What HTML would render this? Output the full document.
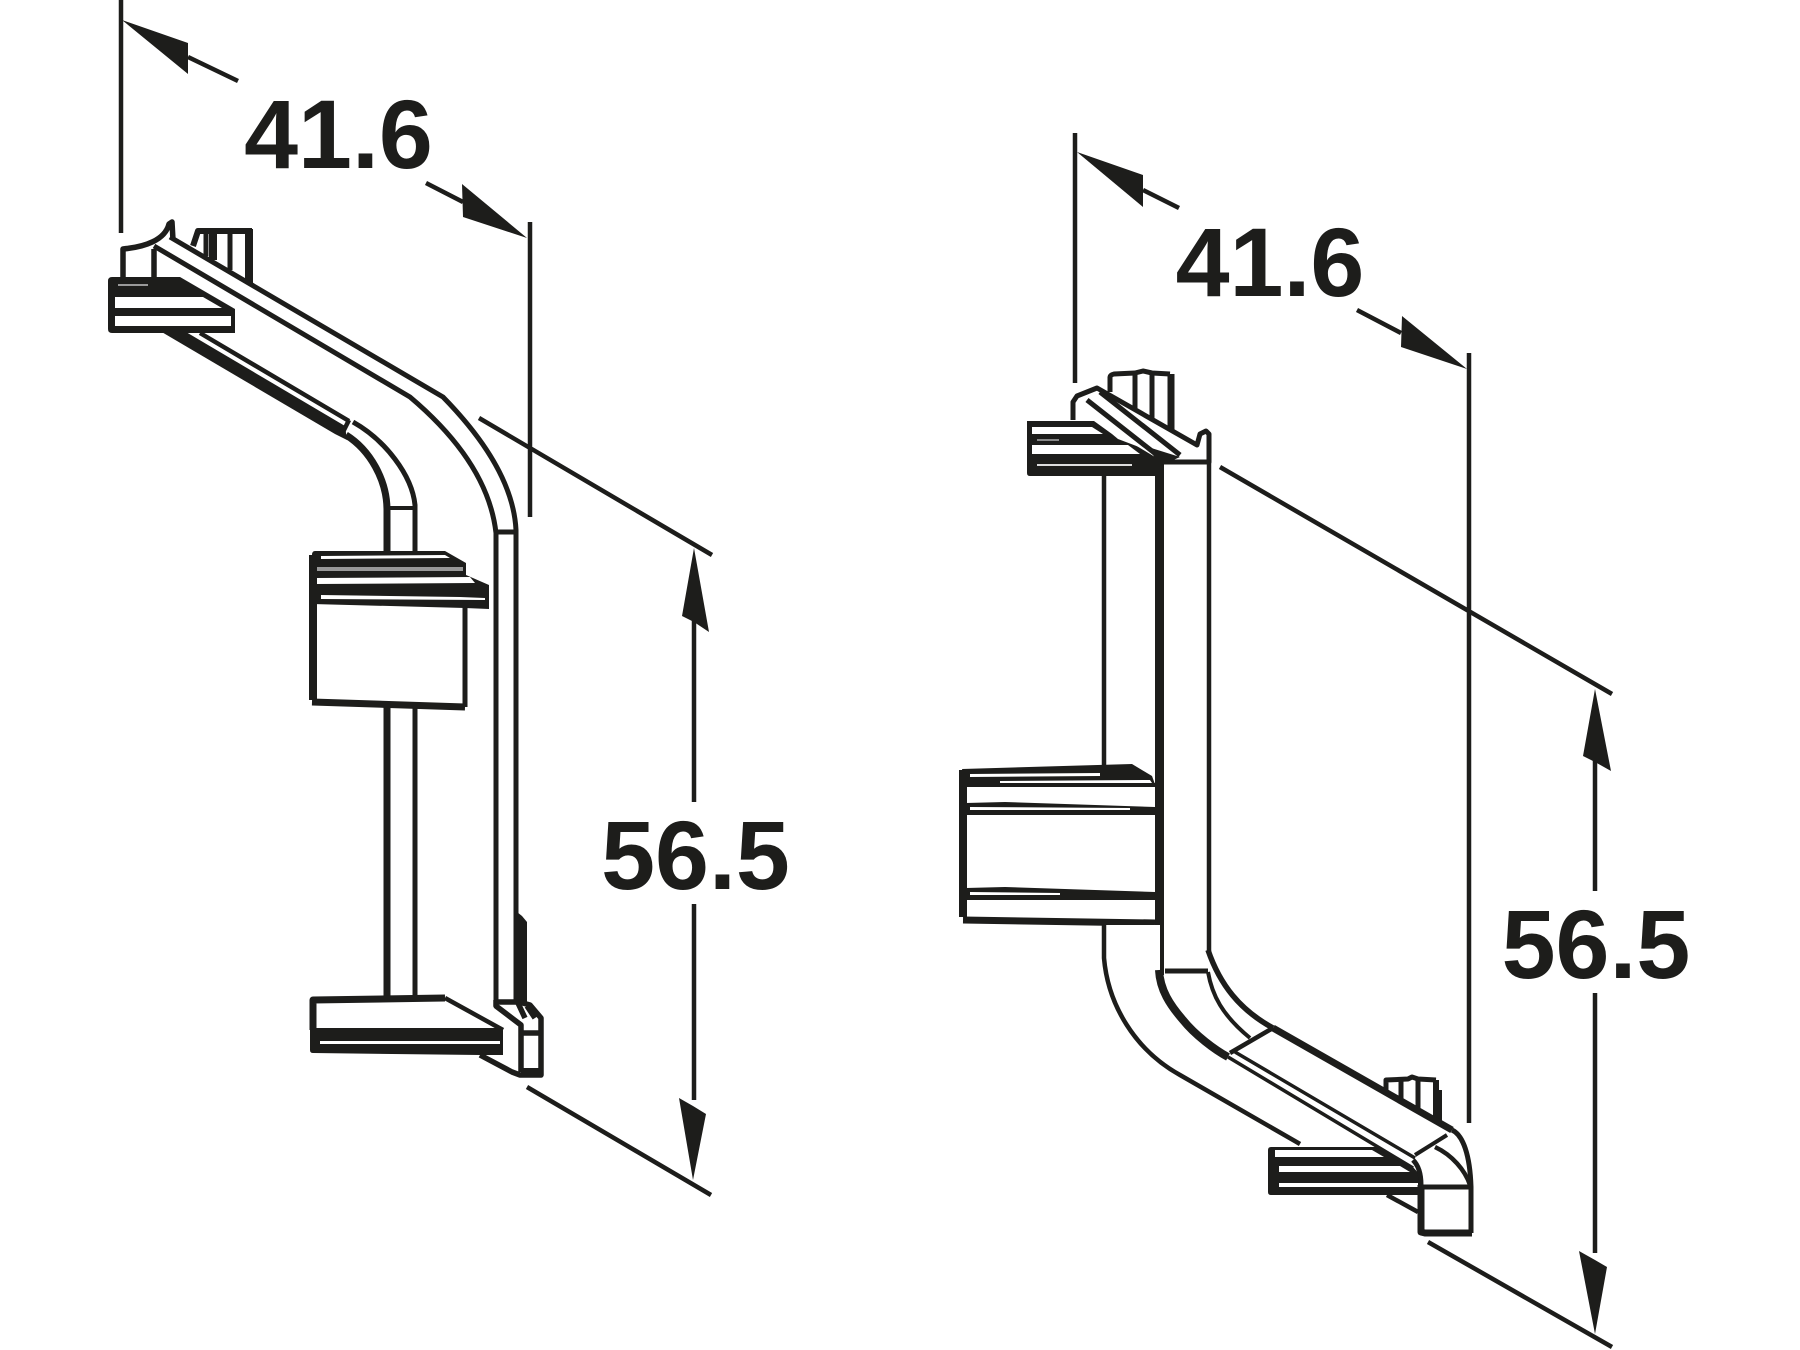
<!DOCTYPE html>
<html><head><meta charset="utf-8"><style>
html,body{margin:0;padding:0;background:#fff;width:1800px;height:1350px;overflow:hidden}
svg{display:block}
text{font-family:"Liberation Sans",Arial,sans-serif;font-weight:bold;font-size:97px;fill:#1d1d1b;text-anchor:middle}
.l{fill:none;stroke:#1d1d1b;stroke-linecap:butt;stroke-linejoin:round}
.w{fill:#fff;stroke:none}
.k{fill:#1d1d1b;stroke:none}
</style></head><body>
<svg width="1800" height="1350" viewBox="0 0 1800 1350" xmlns="http://www.w3.org/2000/svg">
<rect width="1800" height="1350" fill="#fff"/>

<!-- LEFT dimensions -->
<g class="l" stroke-width="4.5">
<path d="M121 0V233M530 222V517M479 418L712 555M527 1087L711 1195M188 57L238 81M426 183L463 202M694 620V802M694 904V1100"/>
</g>
<path class="k" d="M122 20L188 43V74ZM527 238L463 217L462 184ZM694 548L709 632L694 622L682 616ZM693 1180L679 1098L693 1106L706 1114Z"/>
<text x="338.5" y="168">41.6</text>
<text x="695.5" y="889">56.5</text>

<!-- LEFT drawing: knob -->
<path class="w" d="M197 229H253V285H193Z"/>
<g class="l">
<path stroke-width="6" d="M193 246L198 231H252"/>
<path stroke-width="8" d="M249 229V285"/>
<path stroke-width="8" d="M213 230V260"/>
<path stroke-width="5" d="M206 230V256M230 230V270"/>
</g>
<!-- post piece & curved cap -->
<g class="l" stroke-width="5.5">
<path d="M123 277V249C145 247 165 240 169 224L172 222L173 240"/>
<path d="M154 249V277"/>
</g>
<!-- main arm -->
<path class="w" d="M157 248L170 237L443 397C490 440 516 480 516 540V1003H496V533C490 480 450 425 410 397Z"/>
<g class="l" stroke-width="5">
<path d="M154 246L410 397C455 435 490 480 496 533V1003"/>
<path d="M170 237L443 397C490 445 514 490 516 530V1003"/>
<path d="M496 532H516"/>
</g>
<!-- middle post -->
<g class="l">
<path stroke-width="7" d="M346 435C370 450 387 480 387 510V998"/>
<path stroke-width="5" d="M353 422C385 440 412 475 415 505V998"/>
<path stroke-width="4" d="M387 508H415"/>
<path stroke-width="4.5" d="M200 333L349 421M342 434L349 420"/>
</g>
<path class="k" d="M160 331L186 332L345 426L347 440L335 434Z"/>
<!-- top-left bracket -->
<path class="k" d="M112 277H180L235 309V333H112Q108 333 108 329V281Q108 277 112 277Z"/>
<path class="w" d="M115 297H203L222 308H115ZM115 316H231V326H115Z"/>
<rect x="118" y="284" width="30" height="2" fill="#999"/>
<!-- middle block -->
<path class="w" d="M312 600H465V707L312 702Z"/>
<path class="k" d="M315 551H445L466 563V575L489 585V609L465 608L312 604V555Q312 551 315 551Z"/>
<path class="w" d="M321 556L445 555L450 558L321 559ZM316 578L470 577L475 583L316 584Z"/>
<rect x="316" y="567" width="147" height="4" fill="#999"/>
<path class="w" d="M321 595L460 597L485 598V600L321 599Z"/>
<g class="l">
<path stroke-width="8" d="M313 555V700"/>
<path stroke-width="7" d="M312 702L465 707"/>
<path stroke-width="5" d="M465 606V707"/>
</g>
<!-- lower bracket -->
<path class="w" d="M312 998H445L503 1028V1054H312Z"/>
<path class="k" d="M310 1028H503V1055H480L313 1053Q310 1053 310 1050Z"/>
<rect x="320" y="1041" width="180" height="3" fill="#fff"/>
<g class="l">
<path stroke-width="7" d="M313 1030V1000L445 998"/>
<path stroke-width="4.5" d="M445 998L503 1030"/>
</g>
<!-- foot -->
<path class="k" d="M517 912L522 916L527 922V1005H517Z"/>
<path class="w" d="M496 1003H522L542 1020V1073H522V1025Z"/>
<g class="l" stroke-width="5.5">
<path d="M496 1000V1006L521 1025V1072"/>
<path d="M496 1002H519L530 1005L541 1018V1075H520L512 1072L480 1055"/>
<path d="M523 1033H541M518 1003L525 1018M527 1006L535 1018"/>
</g>
<rect x="521" y="1068" width="21" height="8" fill="#1d1d1b"/>

<!-- RIGHT dimensions -->
<g class="l" stroke-width="4.5">
<path d="M1075 133V383M1469 353V1123M1220 467L1612 694M1428 1242L1612 1347M1143 190L1179 208M1357 310L1401 333M1595 750V891M1595 993V1253"/>
</g>
<path class="k" d="M1077 152L1143 175V207ZM1467 369L1401 347L1402 316ZM1595 689L1611 771L1595 762L1583 756ZM1595 1334L1579 1251L1595 1260L1607 1267Z"/>
<text x="1270" y="296">41.6</text>
<text x="1596" y="978">56.5</text>

<!-- RIGHT drawing: top knob -->
<path class="w" d="M1110 374H1175V440H1110Z"/>
<g class="l">
<path stroke-width="5" d="M1110 392V377Q1110 375 1114 374L1135 373L1143 371L1152 373L1170 374"/>
<path stroke-width="7" d="M1171 374V432"/>
<path stroke-width="5" d="M1135 375V408M1152 375V420"/>
</g>
<!-- top left bracket -->
<path class="w" d="M1029 422H1093L1120 440H1029Z"/>
<path class="k" d="M1027 421H1094L1112 434L1118 439L1160 455V476H1030Q1027 476 1027 473Z"/>
<path class="w" d="M1032 427H1092L1103 434H1032ZM1032 445H1128L1140 454H1032Z"/>
<rect x="1037" y="464" width="95" height="2" fill="#ddd"/>
<rect x="1037" y="439" width="22" height="2" fill="#888"/>
<!-- vertical body -->
<path class="w" d="M1163 460H1209V970H1163Z"/>
<g class="l">
<path stroke-width="4.5" d="M1104 475V765"/>
<path stroke-width="4.5" d="M1209 460V953"/>
</g>
<path class="k" d="M1155 460H1164V975H1155Z"/>
<!-- top arm -->
<path class="w" d="M1074 420V400L1097 388L1197 443L1204 432H1208L1210 460H1160L1120 436L1093 420Z"/>
<g class="l" stroke-width="5">
<path d="M1073 420V402L1077 396L1097 388L1197 445L1200 434L1206 431L1209 434V462H1158"/>
<path d="M1087 400L1157 455M1100 392L1180 455"/>
</g>
<path class="k" d="M1148 447L1180 457L1160 466Z"/>
<!-- middle block -->
<path class="w" d="M962 770H1155V923L962 920Z"/>
<path class="k" d="M962 769L1132 764L1152 776L1156 787H966Z"/>
<path class="w" d="M970 774L1100 773V776L970 777ZM1000 781L1150 780L1152 783H1000Z"/>
<g class="l">
<path stroke-width="4" d="M966 785H1155"/>
<path stroke-width="8" d="M963 770V917"/>
<path stroke-width="7" d="M963 920L1155 923"/>
</g>
<path class="k" d="M966 803L1005 802L1155 807V815H966ZM966 888L1005 887L1155 892V900H966Z"/>
<path class="w" d="M970 807L1130 808V810L970 810ZM970 892L1060 893V895L970 895Z"/>
<!-- lower bracket -->
<path class="k" d="M1271 1147H1380L1420 1170V1195H1271Q1268 1195 1268 1192V1150Q1268 1147 1271 1147Z"/>
<path class="w" d="M1275 1150H1372L1384 1157H1275ZM1279 1166H1400L1410 1172H1279ZM1279 1183H1418V1187H1279Z"/>
<!-- lower knob -->
<path class="w" d="M1385 1080H1437V1125H1385Z"/>
<g class="l">
<path stroke-width="5" d="M1386 1092V1080L1408 1079L1412 1077L1418 1079L1436 1080"/>
<path stroke-width="5" d="M1401 1080V1100M1418 1080V1110"/>
<path stroke-width="6" d="M1436 1080V1122"/>
<path stroke-width="4" d="M1440 1090V1122"/>
</g>
<!-- lower arm -->
<path class="w" d="M1164 970H1209C1215 1000 1240 1010 1273 1028L1453 1130C1465 1135 1471 1160 1471 1187H1420V1175L1413 1167L1228 1057C1185 1020 1165 1000 1164 970Z"/>
<path class="w" d="M1104 925V960C1110 1030 1150 1060 1180 1075L1300 1146H1230L1160 1000V925Z"/>
<g class="l">
<path stroke-width="4.5" d="M1104 923V958C1108 1005 1135 1050 1180 1075L1300 1144"/>
<path stroke-width="5" d="M1165 971H1208"/>
<path stroke-width="8" d="M1159 970C1160 990 1170 1005 1183 1020C1195 1035 1215 1050 1228 1057"/>
<path stroke-width="4" d="M1208 972C1212 995 1222 1015 1250 1038"/>
<path stroke-width="5.5" d="M1208 950C1220 985 1240 1010 1273 1028"/>
<path stroke-width="7" d="M1273 1028L1452 1130"/>
<path stroke-width="4.5" d="M1230 1053L1273 1028"/>
<path stroke-width="3.5" d="M1228 1057L1413 1168M1235 1052L1415 1158"/>
<path stroke-width="4" d="M1415 1155L1447 1135"/>
<path stroke-width="5" d="M1452 1130C1463 1135 1470 1155 1471 1187V1233"/>
<path stroke-width="4.5" d="M1435 1147C1452 1155 1465 1170 1470 1185"/>
<path stroke-width="5" d="M1413 1160C1418 1165 1421 1172 1421 1185M1420 1187H1471"/>
<path stroke-width="7" d="M1421 1185V1232L1425 1233H1472"/>
<path stroke-width="4.5" d="M1387 1195L1418 1212"/>
</g>
</svg>
</body></html>
